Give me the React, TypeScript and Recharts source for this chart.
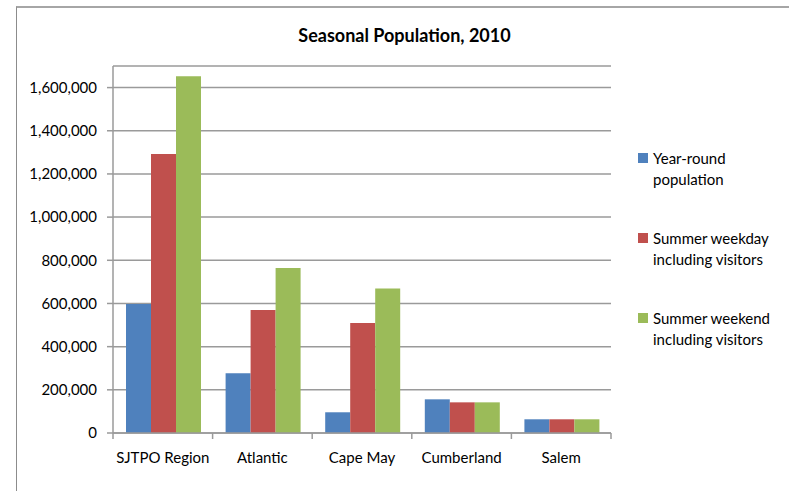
import { Bar, BarChart, CartesianGrid, XAxis, YAxis } from "recharts";

const categories = ["SJTPO Region", "Atlantic", "Cape May", "Cumberland", "Salem"];
const yearRound = [597000, 277000, 96000, 156000, 63500];
const summerWeekday = [1292000, 570000, 510000, 142000, 63500];
const summerWeekend = [1652000, 764000, 669000, 142000, 63500];
const yTicks = [0, 200000, 400000, 600000, 800000, 1000000, 1200000, 1400000, 1600000];

const seriesKeys = ["yearRound", "summerWeekday", "summerWeekend"];
const seriesNames = [
  "Year-round\npopulation",
  "Summer weekday\nincluding visitors",
  "Summer weekend\nincluding visitors",
];
const seriesColors = ["#4F81BD", "#C0504D", "#9BBB59"];

const data = categories.map((name, i) => ({
  name,
  yearRound: yearRound[i],
  summerWeekday: summerWeekday[i],
  summerWeekend: summerWeekend[i],
}));

const FONT = "Lato, 'Open Sans', sans-serif";
const AXIS_GRAY = "#9a9a9a";

// category ticks sit on the band boundaries, not the centres
const CategoryTick = (props: any) => {
  const { x, y, payload, index, visibleTicksCount } = props;
  const half = payload?.offset ?? 0;
  const top = y - 13 - 6;
  return (
    <g>
      <line x1={x - half} x2={x - half} y1={top} y2={top + 6} stroke={AXIS_GRAY} strokeWidth={1.5} />
      {index === visibleTicksCount - 1 && (
        <line x1={x + half} x2={x + half} y1={top} y2={top + 6} stroke={AXIS_GRAY} strokeWidth={1.5} />
      )}
      <text x={x} y={y} dy="0.71em" textAnchor="middle" fill="#000" fontSize={15} fontFamily={FONT}>
        {payload.value}
      </text>
    </g>
  );
};

const ChartLegend = () => (
  <div
    style={{
      position: "absolute",
      left: 638,
      top: 148,
      fontFamily: FONT,
      fontSize: 15,
      color: "#000",
    }}
  >
    {seriesNames.map((label, i) => (
      <div key={label} style={{ display: "flex", height: 80 }}>
        <div
          style={{
            width: 10,
            height: 10,
            marginTop: 5,
            marginRight: 5,
            backgroundColor: seriesColors[i],
            flexShrink: 0,
          }}
        />
        <div style={{ whiteSpace: "pre-line", lineHeight: "21px" }}>{label}</div>
      </div>
    ))}
  </div>
);

export default function App() {
  return (
    <div
      style={{
        position: "absolute",
        left: 0,
        top: 0,
        width: 789,
        height: 491,
        background: "#fff",
        overflow: "hidden",
      }}
    >
      <div
        style={{
          position: "absolute",
          left: 16,
          top: 6,
          width: 800,
          height: 500,
          borderTop: "2px solid #a6a6a6",
          borderLeft: "1px solid #8c8c8c",
        }}
      />
      <div
        style={{
          position: "absolute",
          left: 0,
          width: 809,
          top: 24,
          textAlign: "center",
          fontFamily: FONT,
          fontWeight: "bold",
          fontSize: 18,
          lineHeight: "22px",
          color: "#000",
        }}
      >
        Seasonal Population, 2010
      </div>
      <div style={{ position: "absolute", left: 0, top: 0 }}>
        <BarChart
          width={789}
          height={491}
          data={data}
          margin={{ top: 66, right: 178, bottom: 28, left: 0 }}
          barCategoryGap={13}
          barGap={0}
        >
          <CartesianGrid horizontal vertical={false} stroke={AXIS_GRAY} strokeWidth={1.5} />
          <XAxis
            dataKey="name"
            height={30}
            axisLine={{ stroke: AXIS_GRAY, strokeWidth: 1.5 }}
            tickLine={false}
            tickSize={6}
            tickMargin={13}
            interval={0}
            tick={<CategoryTick />}
          />
          <YAxis
            width={113}
            domain={[0, 1700000]}
            ticks={yTicks}
            interval={0}
            tickFormatter={(v: number) => v.toLocaleString("en-US")}
            axisLine={{ stroke: AXIS_GRAY, strokeWidth: 1.5 }}
            tickLine={{ stroke: AXIS_GRAY, strokeWidth: 1.5 }}
            tickSize={6}
            tickMargin={10}
            tick={{ fontSize: 15, fill: "#000", fontFamily: FONT }}
          />
          {seriesKeys.map((key, i) => (
            <Bar
              key={key}
              dataKey={key}
              name={seriesNames[i]}
              fill={seriesColors[i]}
              isAnimationActive={false}
            />
          ))}
        </BarChart>
      </div>
      <ChartLegend />
    </div>
  );
}
